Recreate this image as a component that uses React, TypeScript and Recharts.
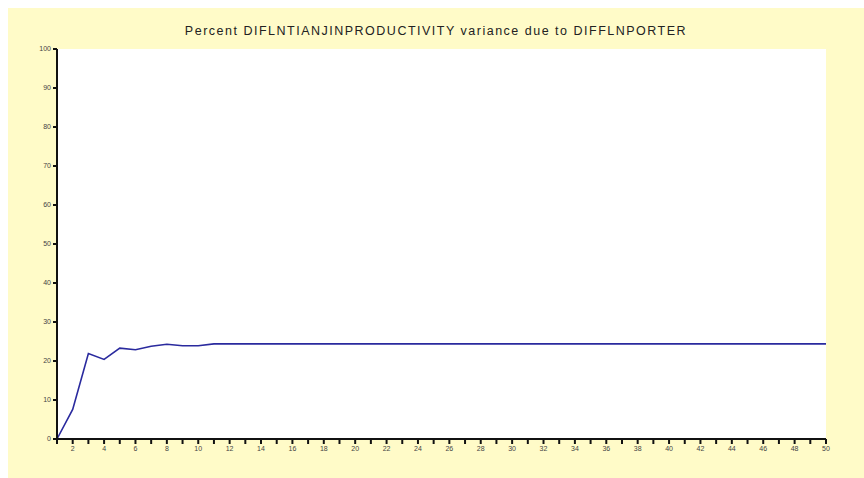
import { CartesianGrid, Line, LineChart, XAxis, YAxis } from "recharts";

// forecast horizon (periods)
const periods = [
  1, 2, 3, 4, 5, 6, 7, 8, 9, 10, 11, 12, 13, 14, 15, 16, 17, 18, 19, 20, 21, 22, 23, 24, 25,
  26, 27, 28, 29, 30, 31, 32, 33, 34, 35, 36, 37, 38, 39, 40, 41, 42, 43, 44, 45, 46, 47, 48,
  49, 50,
];

// percent of variance explained
const percentValues = [
  0, 7.6, 21.9, 20.4, 23.3, 22.9, 23.8, 24.3, 23.9, 23.9, 24.4, 24.4, 24.4, 24.4, 24.4, 24.4,
  24.4, 24.4, 24.4, 24.4, 24.4, 24.4, 24.4, 24.4, 24.4, 24.4, 24.4, 24.4, 24.4, 24.4, 24.4,
  24.4, 24.4, 24.4, 24.4, 24.4, 24.4, 24.4, 24.4, 24.4, 24.4, 24.4, 24.4, 24.4, 24.4, 24.4,
  24.4, 24.4, 24.4, 24.4,
];

const yTicks = [0, 10, 20, 30, 40, 50, 60, 70, 80, 90, 100];

const title = "Percent DIFLNTIANJINPRODUCTIVITY variance due to DIFFLNPORTER";

const data = periods.map((p, i) => ({ period: p, value: percentValues[i] }));

const tickStyle = { fill: "#444", fontSize: 7, fontFamily: "Liberation Sans, Arial, sans-serif" };

export default function App() {
  return (
    <div
      style={{
        position: "fixed",
        left: 8,
        top: 8,
        width: 856,
        height: 470,
        background: "#fffbc8",
      }}
    >
      <div
        style={{
          position: "absolute",
          top: 16,
          left: 0,
          width: 856,
          textAlign: "center",
          fontFamily: "Liberation Sans, Arial, sans-serif",
          fontSize: 12.5,
          color: "#222",
          letterSpacing: 1.5,
          lineHeight: "14px",
        }}
      >
        {title}
      </div>
      <LineChart
        width={856}
        height={470}
        data={data}
        margin={{ top: 41, right: 38, bottom: 9, left: 9 }}
      >
        <CartesianGrid horizontal={false} vertical={false} fill="#ffffff" stroke="none" />
        <XAxis
          dataKey="period"
          type="number"
          domain={[1, 50]}
          ticks={periods}
          interval={0}
          tickFormatter={(v: number) => (v % 2 === 0 ? String(v) : "")}
          tick={tickStyle}
          tickSize={5}
          tickMargin={2}
          height={30}
          stroke="#111"
          strokeWidth={2}
        />
        <YAxis
          type="number"
          domain={[0, 100]}
          ticks={yTicks}
          interval={0}
          tick={tickStyle}
          tickSize={4}
          tickMargin={2}
          width={40}
          stroke="#111"
          strokeWidth={2}
        />
        <Line
          type="linear"
          dataKey="value"
          stroke="#2a2a9e"
          strokeWidth={1.6}
          dot={false}
          isAnimationActive={false}
        />
      </LineChart>
    </div>
  );
}
